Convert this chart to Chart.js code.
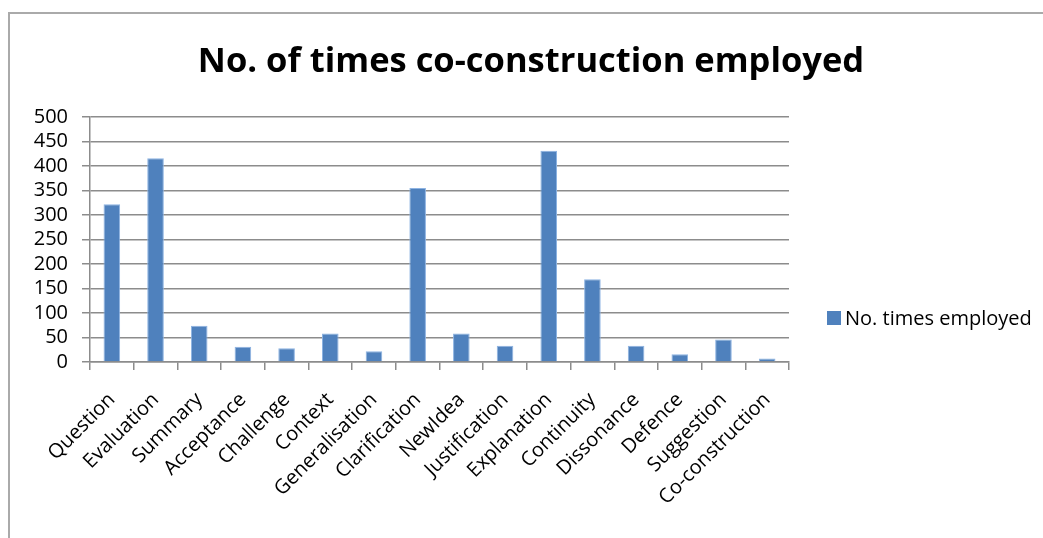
<!DOCTYPE html>
<html>
<head>
<meta charset="utf-8">
<script src="https://cdn.jsdelivr.net/npm/chart.js@4.4.1/dist/chart.umd.min.js"></script>
<style>
  html, body { margin: 0; padding: 0; background: #fff; overflow: hidden; }
  #frame {
    position: absolute; left: 8px; top: 12px;
    width: 1040px; height: 530px;
    border-left: 2px solid #aaa; border-top: 2px solid #aaa;
  }
  #chart { display: block; }
</style>
</head>
<body>
<div id="frame"><canvas id="chart" width="1040" height="530"></canvas></div>
<script>
const categories = ['Question', 'Evaluation', 'Summary', 'Acceptance', 'Challenge', 'Context',
  'Generalisation', 'Clarification', 'NewIdea', 'Justification', 'Explanation', 'Continuity',
  'Dissonance', 'Defence', 'Suggestion', 'Co-construction'];
const timesEmployed = [322, 416, 74, 31, 28, 58, 22, 355, 58, 33, 431, 169, 33, 16, 46, 7];
const yMin = 0, yMax = 500, yStep = 50;
const chartTitle = 'No. of times co-construction employed';

const FONT = '"Open Sans", "Noto Sans", sans-serif';
const BAR = '#4f81bd';
const GRID = '#8c8c8c';

// title across the whole frame and legend to the right of the plot, like Excel's
const excelDecor = {
  id: 'excelDecor',
  afterDraw(chart) {
    const ctx = chart.ctx;
    const ds = chart.data.datasets[0];
    ctx.save();
    ctx.fillStyle = '#000';
    ctx.font = 'bold 34.5px ' + FONT;
    ctx.textAlign = 'center';
    ctx.textBaseline = 'middle';
    ctx.fillText(chartTitle, 521, 48);

    const x = 817, y = 304;
    ctx.fillStyle = ds.backgroundColor;
    ctx.fillRect(x, y - 7, 14, 14);
    ctx.fillStyle = '#000';
    ctx.font = '20px ' + FONT;
    ctx.textAlign = 'left';
    ctx.fillText(ds.label, x + 18, y + 1);
    ctx.restore();
  }
};

new Chart(document.getElementById('chart'), {
  type: 'bar',
  data: {
    labels: categories,
    datasets: [{
      label: 'No. times employed',
      data: timesEmployed,
      backgroundColor: BAR,
      borderColor: '#8db3e2',
      borderWidth: { top: 1, left: 1, right: 1, bottom: 0 },
      barPercentage: 0.76,
      categoryPercentage: 0.5
    }]
  },
  plugins: [excelDecor],
  options: {
    responsive: false,
    animation: false,
    layout: { padding: { left: 0, right: 261, top: 103, bottom: 0 } },
    plugins: {
      legend: { display: false },
      tooltip: { enabled: false }
    },
    scales: {
      x: {
        grid: { drawOnChartArea: false, drawTicks: true, tickLength: 8, color: GRID, lineWidth: 1.5 },
        border: { color: GRID, width: 1.5 },
        ticks: {
          color: '#000',
          font: { family: FONT, size: 20 },
          minRotation: 45, maxRotation: 45,
          autoSkip: false, padding: 18
        },
        afterFit(scale) { scale.height = 182; }
      },
      y: {
        min: yMin, max: yMax,
        grid: { color: GRID, lineWidth: 1.5, tickLength: 8 },
        border: { color: GRID, width: 1.5 },
        ticks: {
          stepSize: yStep,
          autoSkip: false,
          color: '#000',
          font: { family: FONT, size: 20, lineHeight: 1 },
          padding: 14
        },
        afterFit(scale) { scale.width = 80; }
      }
    }
  }
});
</script>
</body>
</html>
